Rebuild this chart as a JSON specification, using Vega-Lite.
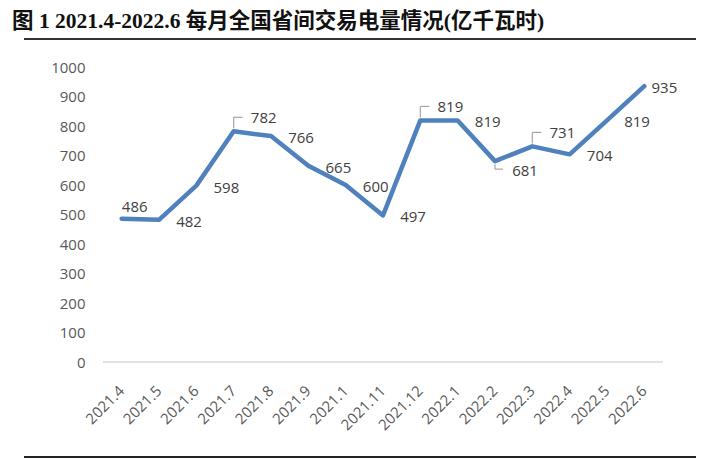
{
  "$schema": "https://vega.github.io/schema/vega-lite/v6.json",
  "width": 672,
  "height": 418,
  "autosize": {"type": "none"},
  "padding": {"left": 24, "top": 39, "right": 24, "bottom": 2},
  "background": "white",
  "config": {"view": {"stroke": null}, "font": "Open Sans"},
  "title": {
    "text": "图 1 2021.4-2022.6 每月全国省间交易电量情况(亿千瓦时)",
    "anchor": "start",
    "frame": "group",
    "font": "Liberation Serif, Noto Sans CJK SC",
    "fontSize": 21.5,
    "fontWeight": "bold",
    "color": "#111111",
    "baseline": "middle",
    "offset": 17,
    "dx": -12,
    "dy": 22
  },
  "data": {
    "values": [
      {"month": "2021.4", "value": 486},
      {"month": "2021.5", "value": 482},
      {"month": "2021.6", "value": 598},
      {"month": "2021.7", "value": 782},
      {"month": "2021.8", "value": 766},
      {"month": "2021.9", "value": 665},
      {"month": "2021.1", "value": 600},
      {"month": "2021.11", "value": 497},
      {"month": "2021.12", "value": 819},
      {"month": "2022.1", "value": 819},
      {"month": "2022.2", "value": 681},
      {"month": "2022.3", "value": 731},
      {"month": "2022.4", "value": 704},
      {"month": "2022.5", "value": 819},
      {"month": "2022.6", "value": 935}
    ]
  },
  "layer": [
    {
      "data": {"values": [{}]},
      "mark": {"type": "rule", "color": "#333333", "strokeWidth": 2},
      "encoding": {"y": {"datum": 1095, "type": "quantitative"}}
    },
    {
      "data": {"values": [{}]},
      "mark": {"type": "rule", "color": "#222222", "strokeWidth": 2},
      "encoding": {"y": {"datum": -322, "type": "quantitative"}}
    },
    {
      "data": {"values": [{}]},
      "mark": {"type": "rule", "color": "#d9d9d9", "strokeWidth": 1.3},
      "encoding": {
        "x": {"datum": "2021.4", "type": "ordinal", "bandPosition": 0},
        "x2": {"datum": "2022.6", "bandPosition": 1},
        "y": {"datum": 0, "type": "quantitative"}
      }
    },
    {
      "mark": {"type": "line", "color": "#4F81BD", "strokeWidth": 4.5, "strokeJoin": "round", "strokeCap": "round"},
      "encoding": {
        "x": {
          "field": "month",
          "type": "ordinal",
          "bandPosition": 0.5,
          "sort": null,
          "scale": {
            "type": "band",
            "domain": ["2021.4", "2021.5", "2021.6", "2021.7", "2021.8", "2021.9", "2021.1", "2021.11", "2021.12", "2022.1", "2022.2", "2022.3", "2022.4", "2022.5", "2022.6"],
            "range": [79, 639],
            "paddingInner": 0,
            "paddingOuter": 0
          },
          "axis": {
            "title": null,
            "domain": false,
            "ticks": false,
            "tickSize": 0,
            "grid": false,
            "labelAngle": -45,
            "labelAlign": "right",
            "labelBaseline": "middle",
            "labelPadding": 26,
            "labelFlush": false,
            "offset": -95,
            "labelFont": "Open Sans",
            "labelFontSize": 15,
            "labelColor": "#595959"
          }
        },
        "y": {
          "field": "value",
          "type": "quantitative",
          "scale": {"domain": [-322, 1095], "nice": false, "zero": false},
          "axis": {
            "title": null,
            "domain": false,
            "ticks": false,
            "tickSize": 0,
            "grid": false,
            "values": [0, 100, 200, 300, 400, 500, 600, 700, 800, 900, 1000],
            "format": "d",
            "labelPadding": 0,
            "offset": -61,
            "labelFont": "Open Sans",
            "labelFontSize": 15,
            "labelColor": "#595959"
          }
        }
      }
    },
    {
      "transform": [{"filter": {"field": "month", "oneOf": ["2021.7", "2021.12", "2022.3"]}}],
      "mark": {"type": "rule", "color": "#a6a6a6", "strokeWidth": 1.2, "yOffset": -3, "y2Offset": -14},
      "encoding": {
        "x": {"field": "month", "type": "ordinal", "bandPosition": 0.5},
        "y": {"field": "value", "type": "quantitative"},
        "y2": {"field": "value"}
      }
    },
    {
      "transform": [{"filter": {"field": "month", "oneOf": ["2021.7", "2021.12", "2022.3"]}}],
      "mark": {"type": "rule", "color": "#a6a6a6", "strokeWidth": 1.2, "yOffset": -14, "x2Offset": 9},
      "encoding": {
        "x": {"field": "month", "type": "ordinal", "bandPosition": 0.5},
        "x2": {"field": "month", "bandPosition": 0.5},
        "y": {"field": "value", "type": "quantitative"}
      }
    },
    {
      "transform": [{"filter": {"field": "month", "equal": "2022.2"}}],
      "mark": {"type": "rule", "color": "#a6a6a6", "strokeWidth": 1.2, "yOffset": 3, "y2Offset": 8},
      "encoding": {
        "x": {"field": "month", "type": "ordinal", "bandPosition": 0.5},
        "y": {"field": "value", "type": "quantitative"},
        "y2": {"field": "value"}
      }
    },
    {
      "transform": [{"filter": {"field": "month", "equal": "2022.2"}}],
      "mark": {"type": "rule", "color": "#a6a6a6", "strokeWidth": 1.2, "yOffset": 8, "x2Offset": 8},
      "encoding": {
        "x": {"field": "month", "type": "ordinal", "bandPosition": 0.5},
        "x2": {"field": "month", "bandPosition": 0.5},
        "y": {"field": "value", "type": "quantitative"}
      }
    },
    {
      "transform": [{"filter": {"field": "month", "oneOf": ["2021.5", "2021.6", "2021.8", "2021.9", "2021.1", "2021.11", "2022.1", "2022.4", "2022.5"]}}],
      "mark": {"type": "text", "dx": 30, "dy": 2, "align": "center", "baseline": "middle", "font": "Open Sans", "fontSize": 15, "color": "#404040"},
      "encoding": {
        "x": {"field": "month", "type": "ordinal", "bandPosition": 0.5},
        "y": {"field": "value", "type": "quantitative"},
        "text": {"field": "value", "type": "quantitative"}
      }
    },
    {
      "transform": [{"filter": {"field": "month", "oneOf": ["2021.7", "2021.12", "2022.3"]}}],
      "mark": {"type": "text", "dx": 30, "dy": -13, "align": "center", "baseline": "middle", "font": "Open Sans", "fontSize": 15, "color": "#404040"},
      "encoding": {
        "x": {"field": "month", "type": "ordinal", "bandPosition": 0.5},
        "y": {"field": "value", "type": "quantitative"},
        "text": {"field": "value", "type": "quantitative"}
      }
    },
    {
      "transform": [{"filter": {"field": "month", "equal": "2022.2"}}],
      "mark": {"type": "text", "dx": 30, "dy": 10, "align": "center", "baseline": "middle", "font": "Open Sans", "fontSize": 15, "color": "#404040"},
      "encoding": {
        "x": {"field": "month", "type": "ordinal", "bandPosition": 0.5},
        "y": {"field": "value", "type": "quantitative"},
        "text": {"field": "value", "type": "quantitative"}
      }
    },
    {
      "transform": [{"filter": {"field": "month", "equal": "2021.4"}}],
      "mark": {"type": "text", "dx": 13, "dy": -12, "align": "center", "baseline": "middle", "font": "Open Sans", "fontSize": 15, "color": "#404040"},
      "encoding": {
        "x": {"field": "month", "type": "ordinal", "bandPosition": 0.5},
        "y": {"field": "value", "type": "quantitative"},
        "text": {"field": "value", "type": "quantitative"}
      }
    },
    {
      "transform": [{"filter": {"field": "month", "equal": "2022.6"}}],
      "mark": {"type": "text", "dx": 20, "dy": 2, "align": "center", "baseline": "middle", "font": "Open Sans", "fontSize": 15, "color": "#404040"},
      "encoding": {
        "x": {"field": "month", "type": "ordinal", "bandPosition": 0.5},
        "y": {"field": "value", "type": "quantitative"},
        "text": {"field": "value", "type": "quantitative"}
      }
    }
  ]
}
